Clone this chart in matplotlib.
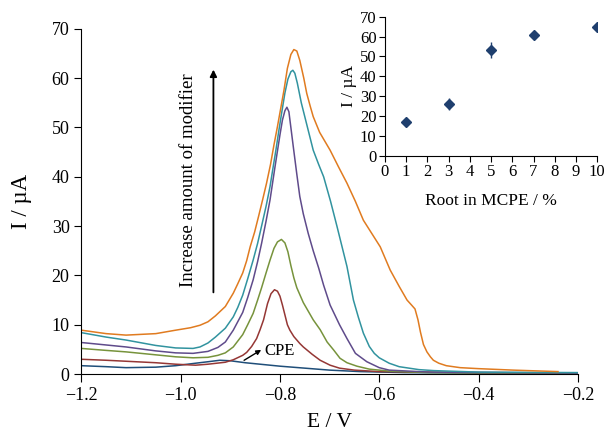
import matplotlib.pyplot as plt
import numpy as np

plt.rcParams['font.family'] = ['Liberation Serif', 'DejaVu Serif']

# Differential pulse curves, E in V, I in uA
E_orange = [-1.2, -1.15, -1.11, -1.05, -1.01, -0.98, -0.961, -0.945, -0.93, -0.91, -0.894,
            -0.885, -0.875, -0.867, -0.86, -0.851, -0.843, -0.835, -0.827, -0.819, -0.812,
            -0.805, -0.8, -0.792, -0.785, -0.778, -0.772, -0.766, -0.76, -0.752, -0.746,
            -0.739, -0.733, -0.72, -0.699, -0.682, -0.665, -0.648, -0.632, -0.615, -0.598,
            -0.578, -0.56, -0.544, -0.535, -0.528, -0.522, -0.517, -0.511, -0.504, -0.497,
            -0.491, -0.48, -0.465, -0.437, -0.4, -0.33, -0.24]
I_orange = [8.9, 8.2, 7.9, 8.2, 8.9, 9.4, 9.9, 10.6, 11.8, 13.7, 16.4,
            18.3, 20.5, 23.0, 25.8, 28.8, 32.0, 35.3, 38.7, 42.5, 46.5,
            50.2, 53.0, 57.5, 62.0, 64.8, 65.8, 65.5, 63.6, 60.0, 56.9,
            54.3, 52.2, 49.0, 45.4, 42.0, 38.7, 35.0, 31.2, 28.5, 25.8,
            21.1, 17.8, 15.0, 14.0, 13.2, 11.0, 8.5, 6.0, 4.5, 3.5,
            2.8, 2.2, 1.7, 1.3, 1.1, 0.8, 0.5]

E_teal = [-1.2, -1.15, -1.11, -1.05, -1.01, -0.975, -0.961, -0.945, -0.93, -0.91, -0.894,
          -0.885, -0.875, -0.865, -0.854, -0.845, -0.837, -0.828, -0.82, -0.814, -0.808,
          -0.802, -0.796, -0.79, -0.784, -0.778, -0.774, -0.77, -0.765, -0.757, -0.745,
          -0.733, -0.722, -0.712, -0.698, -0.685, -0.665, -0.652, -0.642, -0.632, -0.62,
          -0.61, -0.6, -0.58, -0.56, -0.52, -0.49, -0.4, -0.2]
I_teal = [8.4, 7.5, 6.9, 5.8, 5.3, 5.2, 5.5, 6.3, 7.5, 9.3, 11.6,
          13.5, 16.0, 19.3, 23.1, 26.5, 30.0, 34.0, 38.0, 41.8, 45.5,
          49.5, 53.3, 57.0, 59.8, 61.3, 61.6, 61.0, 59.0, 55.0, 50.2,
          45.4, 42.5, 40.0, 35.0, 29.9, 21.8, 15.0, 11.5, 8.3, 5.6,
          4.2, 3.3, 2.2, 1.5, 0.9, 0.7, 0.4, 0.3]

E_purple = [-1.2, -1.15, -1.11, -1.05, -1.01, -0.975, -0.945, -0.925, -0.91, -0.894, -0.875,
            -0.865, -0.854, -0.845, -0.837, -0.828, -0.82, -0.81, -0.8, -0.795, -0.79,
            -0.786, -0.782, -0.778, -0.773, -0.766, -0.76, -0.753, -0.743, -0.733, -0.722,
            -0.712, -0.699, -0.68, -0.665, -0.648, -0.625, -0.6, -0.58, -0.5, -0.2]
I_purple = [6.4, 5.9, 5.5, 4.7, 4.3, 4.2, 4.6, 5.4, 6.5, 8.9, 12.5,
            15.5, 19.1, 22.8, 26.5, 31.0, 35.3, 42.0, 48.5, 51.5, 53.4,
            54.1, 53.2, 50.0, 46.0, 40.5, 36.0, 32.5, 28.5, 25.0, 21.5,
            18.0, 14.0, 10.0, 7.2, 4.2, 2.5, 1.3, 0.8, 0.4, 0.2]

E_green = [-1.2, -1.15, -1.11, -1.05, -1.01, -0.975, -0.945, -0.925, -0.91, -0.894, -0.875,
           -0.865, -0.854, -0.845, -0.837, -0.828, -0.82, -0.812, -0.805, -0.797, -0.79,
           -0.784, -0.778, -0.772, -0.766, -0.753, -0.733, -0.719, -0.705, -0.692,
           -0.679, -0.665, -0.645, -0.62, -0.58, -0.5, -0.2]
I_green = [5.2, 4.8, 4.5, 3.9, 3.5, 3.3, 3.4, 3.8, 4.3, 5.5, 8.0,
           10.0, 12.3, 15.0, 17.5, 20.5, 23.1, 25.5, 26.8, 27.3, 26.6,
           24.8, 22.0, 19.5, 17.5, 14.5, 11.0, 9.0, 6.5, 4.9,
           3.2, 2.3, 1.6, 1.0, 0.6, 0.3, 0.2]

E_red = [-1.2, -1.15, -1.11, -1.05, -1.01, -0.97, -0.945, -0.91, -0.894, -0.875, -0.867,
         -0.857, -0.847, -0.84, -0.833, -0.825, -0.818, -0.811, -0.805, -0.8, -0.795,
         -0.79, -0.785, -0.78, -0.772, -0.76, -0.753, -0.735, -0.719, -0.699, -0.68,
         -0.65, -0.6, -0.4, -0.2]
I_red = [3.0, 2.8, 2.6, 2.3, 2.0, 1.8, 2.0, 2.4, 2.9, 3.8, 4.4,
         5.6, 7.2, 9.0, 11.0, 14.3, 16.3, 17.1, 16.8, 15.8, 14.0,
         12.0, 10.0, 8.9, 7.6, 6.2, 5.5, 4.0, 2.8, 1.8, 1.2,
         0.8, 0.5, 0.3, 0.2]

E_cpe = [-1.2, -1.15, -1.11, -1.05, -1.01, -0.97, -0.945, -0.921, -0.9, -0.87, -0.84, -0.8,
         -0.75, -0.7, -0.638, -0.55, -0.4, -0.2]
I_cpe = [1.7, 1.5, 1.3, 1.4, 1.7, 2.2, 2.5, 2.8, 2.7, 2.3, 2.0, 1.6,
         1.2, 0.8, 0.5, 0.3, 0.2, 0.15]

# Inset: peak current vs root content
root_pct = [1, 3, 5, 7, 10]
peak_I = [17.1, 26.0, 53.2, 60.8, 64.8]
peak_err = [1.2, 2.9, 3.8, 1.0, 1.0]

curves = [
    (E_cpe, I_cpe, '#1f4e79'),
    (E_red, I_red, '#953735'),
    (E_green, I_green, '#77933c'),
    (E_purple, I_purple, '#5f4b8b'),
    (E_teal, I_teal, '#31939f'),
    (E_orange, I_orange, '#e07b20'),
]

fig = plt.figure(figsize=(6.07, 4.37), dpi=100)
ax = fig.add_axes([0.134, 0.144, 0.818, 0.790])

for E, I, c in curves:
    ax.plot(E, I, color=c, lw=1.1)

ax.set_xlim(-1.2, -0.2)
ax.set_ylim(0, 70)
xt = np.arange(-1.2, -0.19, 0.2)
ax.set_xticks(xt)
ax.set_xticklabels([f'{v:.1f}'.replace('-', '\u2212') for v in xt])
ax.set_yticks(range(0, 71, 10))
ax.spines['top'].set_visible(False)
ax.spines['right'].set_visible(False)
ax.tick_params(axis='x', direction='out', length=6, labelsize=13, pad=3)
ax.tick_params(axis='y', direction='out', length=5, labelsize=13)
ax.set_xlabel('E / V', fontsize=15.5, labelpad=7)
ax.set_ylabel('I / \u00b5A', fontsize=16.5, labelpad=14)

# annotation arrow and texts
ax.annotate('', xy=(-0.934, 62.3), xytext=(-0.934, 16.0),
            arrowprops=dict(arrowstyle='-|>', color='black', lw=1.3, mutation_scale=10))
ax.text(-0.985, 39.4, 'Increase amount of modifier', rotation=90,
        ha='center', va='center', fontsize=13.5)
ax.annotate('', xy=(-0.833, 5.2), xytext=(-0.877, 2.5),
            arrowprops=dict(arrowstyle='-|>', color='black', lw=1.0, mutation_scale=7))
ax.text(-0.832, 4.6, 'CPE', ha='left', va='center', fontsize=12)

# inset
axi = fig.add_axes([0.634, 0.643, 0.350, 0.319])
axi.errorbar(root_pct, peak_I, yerr=peak_err, fmt='D', color='#1f3f6e',
             ms=4.8, ecolor='#1f3f6e', elinewidth=1.0, capsize=0)
axi.set_xlim(0, 10)
axi.set_ylim(0, 70)
axi.set_xticks(range(0, 11))
axi.set_yticks(range(0, 71, 10))
axi.spines['top'].set_visible(False)
axi.spines['right'].set_visible(False)
axi.tick_params(axis='both', direction='out', length=4, labelsize=12, pad=2)
axi.set_xlabel('Root in MCPE / %', fontsize=12.5, labelpad=9)
axi.set_ylabel('I / \u00b5A', fontsize=12.5, labelpad=2)

fig.savefig('out.png', dpi=100)
